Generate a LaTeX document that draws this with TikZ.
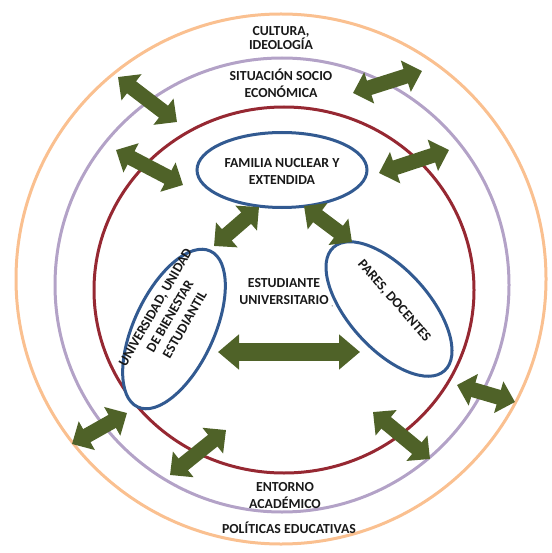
\documentclass[tikz,border=0pt]{standalone}
\usepackage{fontspec}
\setmainfont{Carlito}
\usetikzlibrary{arrows.meta,shapes.geometric}
\definecolor{olivec}{RGB}{79,98,40}
\definecolor{orangec}{RGB}{250,192,144}
\definecolor{purplec}{RGB}{179,162,199}
\definecolor{redc}{RGB}{150,40,50}
\definecolor{bluec}{RGB}{50,90,145}
\definecolor{textc}{RGB}{25,25,25}
\tikzset{
  ring/.style={line width=3pt},
  blueell/.style={ellipse, draw=bluec, line width=3pt, fill=white, inner sep=0pt},
  lbl/.style={font=\fontsize{13.8}{17}\selectfont\bfseries, text=textc, align=center, inner sep=0pt},
  tightlbl/.style={lbl, font=\fontsize{13.8}{14.5}\selectfont\bfseries},
  bigarrow/.style={draw=olivec, line width=15pt,
     {Triangle[width=32pt,length=17pt]}-{Triangle[width=32pt,length=17pt]}},
  widearrow/.style={draw=olivec, line width=18pt,
     {Triangle[width=34pt,length=21pt]}-{Triangle[width=34pt,length=21pt]}}
}
\begin{document}
\begin{tikzpicture}[x=1pt,y=-1pt]
\useasboundingbox (0,0) rectangle (551,553);
% rings
\draw[ring, draw=orangec] (281,279) circle [radius=265];
\draw[ring, draw=purplec] (282,285) circle [radius=227];
\draw[ring, draw=redc] (284,290) ellipse [x radius=190, y radius=183];
% ellipses
\node[blueell, minimum width=170pt, minimum height=75pt] (fam) at (282,170) {};
\node[blueell, minimum width=172pt, minimum height=80pt, rotate=65] (uni) at (174,329) {};
\node[blueell, minimum width=166pt, minimum height=80pt, rotate=-48] (par) at (389,309) {};
% labels
\node[tightlbl] (cult) at (281,38) {CULTURA,\\IDEOLOGÍA};
\node[lbl] (soc) at (281,83) {SITUACIÓN SOCIO\\ECONÓMICA};
\node[lbl] (famt) at (282,171) {FAMILIA NUCLEAR Y\\EXTENDIDA};
\node[lbl] (est) at (284,293) {ESTUDIANTE\\UNIVERSITARIO\rlap{\hspace{3pt}\raisebox{-2pt}{\tiny ,}}};
\node[lbl, rotate=60] (unit) at (170,316) {UNIVERSIDAD, UNIDAD\\DE BIENESTAR\\ESTUDIANTIL};
\node[lbl, rotate=-49] (part) at (394,301) {PARES, DOCENTES};
\node[lbl] (ent) at (285,496) {ENTORNO\\ACADÉMICO};
\node[lbl] (pol) at (289,528) {POLÍTICAS EDUCATIVAS};
% arrow end points
\coordinate (a1s) at (118,77);  \coordinate (a1e) at (177,122);
\coordinate (a2s) at (116,150); \coordinate (a2e) at (183,185);
\coordinate (a3s) at (353,93);  \coordinate (a3e) at (422,71);
\coordinate (a4s) at (379,173); \coordinate (a4e) at (449,150);
\coordinate (a5s) at (259,207); \coordinate (a5e) at (214,246);
\coordinate (a6s) at (304,206); \coordinate (a6e) at (352,242);
\coordinate (a7s) at (218,352); \coordinate (a7e) at (360,352);
\coordinate (a8s) at (457,385); \coordinate (a8e) at (515,402);
\coordinate (a9s) at (373,412); \coordinate (a9e) at (430,459);
\coordinate (a10s) at (72,444); \coordinate (a10e) at (127,413);
\coordinate (a11s) at (170,475); \coordinate (a11e) at (226,430);
% arrows
\draw[bigarrow] (a1s) -- (a1e);
\draw[bigarrow] (a2s) -- (a2e);
\draw[bigarrow] (a3s) -- (a3e);
\draw[bigarrow] (a4s) -- (a4e);
\draw[bigarrow] (a5s) -- (a5e);
\draw[bigarrow] (a6s) -- (a6e);
\draw[widearrow] (a7s) -- (a7e);
\draw[bigarrow] (a8s) -- (a8e);
\draw[bigarrow] (a9s) -- (a9e);
\draw[bigarrow] (a10s) -- (a10e);
\draw[bigarrow] (a11s) -- (a11e);
\end{tikzpicture}
\end{document}
